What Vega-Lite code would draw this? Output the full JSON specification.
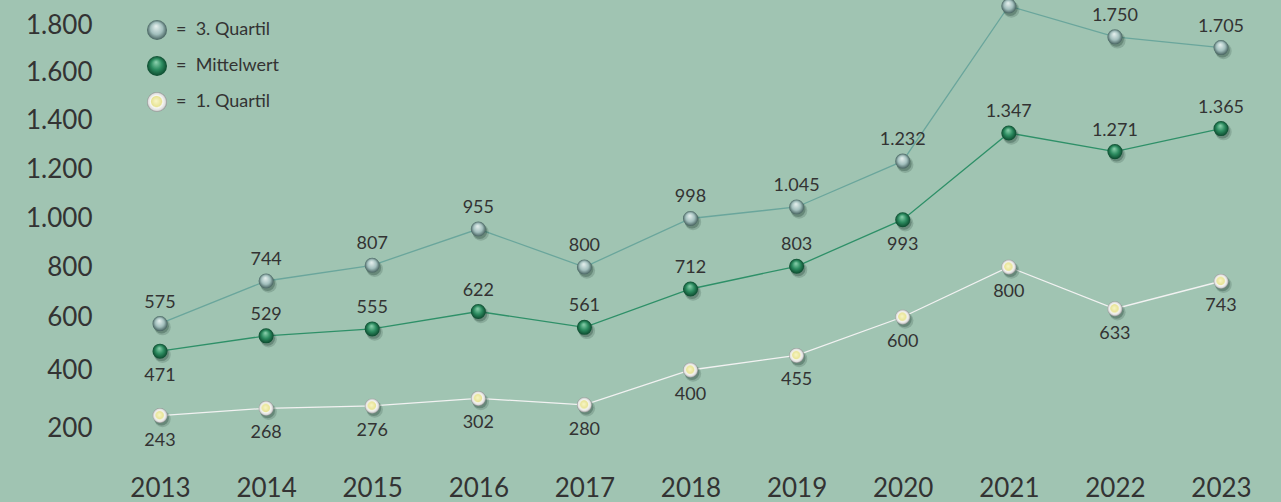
{
  "$schema": "https://vega.github.io/schema/vega-lite/v6.json",
  "width": 1184,
  "height": 470,
  "autosize": {"type": "none"},
  "padding": {"left": 97, "top": 0, "right": 0, "bottom": 32},
  "background": "#a0c4b2",
  "config": {
    "view": {"stroke": null},
    "font": "Lato",
    "locale": {"number": {"decimal": ",", "thousands": ".", "grouping": [3], "currency": ["", " €"]}}
  },
  "data": {
    "values": [
      {"year": 2013, "series": "3. Quartil", "value": 575},
      {"year": 2014, "series": "3. Quartil", "value": 744},
      {"year": 2015, "series": "3. Quartil", "value": 807},
      {"year": 2016, "series": "3. Quartil", "value": 955},
      {"year": 2017, "series": "3. Quartil", "value": 800},
      {"year": 2018, "series": "3. Quartil", "value": 998},
      {"year": 2019, "series": "3. Quartil", "value": 1045},
      {"year": 2020, "series": "3. Quartil", "value": 1232},
      {"year": 2021, "series": "3. Quartil", "value": 1880},
      {"year": 2022, "series": "3. Quartil", "value": 1750},
      {"year": 2023, "series": "3. Quartil", "value": 1705},
      {"year": 2013, "series": "Mittelwert", "value": 471},
      {"year": 2014, "series": "Mittelwert", "value": 529},
      {"year": 2015, "series": "Mittelwert", "value": 555},
      {"year": 2016, "series": "Mittelwert", "value": 622},
      {"year": 2017, "series": "Mittelwert", "value": 561},
      {"year": 2018, "series": "Mittelwert", "value": 712},
      {"year": 2019, "series": "Mittelwert", "value": 803},
      {"year": 2020, "series": "Mittelwert", "value": 993},
      {"year": 2021, "series": "Mittelwert", "value": 1347},
      {"year": 2022, "series": "Mittelwert", "value": 1271},
      {"year": 2023, "series": "Mittelwert", "value": 1365},
      {"year": 2013, "series": "1. Quartil", "value": 243},
      {"year": 2014, "series": "1. Quartil", "value": 268},
      {"year": 2015, "series": "1. Quartil", "value": 276},
      {"year": 2016, "series": "1. Quartil", "value": 302},
      {"year": 2017, "series": "1. Quartil", "value": 280},
      {"year": 2018, "series": "1. Quartil", "value": 400},
      {"year": 2019, "series": "1. Quartil", "value": 455},
      {"year": 2020, "series": "1. Quartil", "value": 600},
      {"year": 2021, "series": "1. Quartil", "value": 800},
      {"year": 2022, "series": "1. Quartil", "value": 633},
      {"year": 2023, "series": "1. Quartil", "value": 743}
    ]
  },
  "encoding": {
    "x": {
      "field": "year", "type": "quantitative",
      "scale": {"domain": [2013, 2023], "range": [63, 1124], "zero": false, "nice": false},
      "axis": {"title": null, "values": [2013,2014,2015,2016,2017,2018,2019,2020,2021,2022,2023], "format": "d",
               "labelFontSize": 26, "labelColor": "#333333", "labelPadding": 5, "tickSize": 0, "ticks": false,
               "domain": false, "grid": false, "labelFlush": false, "labelOverlap": false}
    },
    "y": {
      "field": "value", "type": "quantitative",
      "scale": {"domain": [200, 400, 600, 800, 1000, 1200, 1400, 1800], "range": [428, 370, 317, 267, 218, 169, 120, 25], "zero": false, "nice": false},
      "axis": {"title": null, "values": [200,400,600,800,1000,1200,1400,1600,1800], "format": ",d",
               "labelFontSize": 26, "labelColor": "#333333", "labelPadding": 5, "tickSize": 0, "ticks": false,
               "domain": false, "grid": false, "labelOverlap": false}
    }
  },
  "layer": [
    {
      "mark": {"type": "line", "strokeWidth": 1.3},
      "encoding": {
        "stroke": {
          "field": "series", "type": "nominal",
          "scale": {"domain": ["3. Quartil", "Mittelwert", "1. Quartil"], "range": ["#6aa69c", "#2e9068", "#f2f2f2"]},
          "legend": {
            "orient": "none", "legendX": 50, "legendY": 20, "title": null, "padding": 0,
            "symbolType": "circle", "symbolSize": 400, "symbolStrokeWidth": 0,
            "labelFontSize": 18, "labelOffset": 9, "rowPadding": 16, "labelColor": "#333333", "labelFont": "Lato",
            "labelExpr": "'=\u00a0\u00a0' + datum.label",
            "encode": {
              "symbols": {
                "update": {
                  "fill": {"signal": "datum.value == '3. Quartil' ? {gradient: 'radial', x1: 0.45, y1: 0.3, r1: 0, x2: 0.5, y2: 0.5, r2: 0.5, stops: [{offset: 0, color: '#e8f2f0'}, {offset: 0.6, color: '#a2bfbd'}, {offset: 1, color: '#46625f'}]} : (datum.value == 'Mittelwert' ? {gradient: 'radial', x1: 0.45, y1: 0.3, r1: 0, x2: 0.5, y2: 0.5, r2: 0.5, stops: [{offset: 0, color: '#8fd3b0'}, {offset: 0.55, color: '#2c8c60'}, {offset: 1, color: '#0c4a2e'}]} : {gradient: 'radial', x1: 0.45, y1: 0.45, r1: 0, x2: 0.5, y2: 0.5, r2: 0.5, stops: [{offset: 0, color: '#f8f6c8'}, {offset: 0.5, color: '#e8e496'}, {offset: 0.62, color: '#f6f6f2'}, {offset: 0.85, color: '#dedede'}, {offset: 1, color: '#8a8a8a'}]})"},
                  "stroke": {"value": "transparent"},
                  "opacity": {"value": 1}
                }
              }
            }
          }
        }
      }
    },
    {
      "mark": {"type": "point", "filled": true, "shape": "circle", "size": 270, "color": "#1b3a2e", "opacity": 0.18, "xOffset": 2.5, "yOffset": 3.5}
    },
    {
      "mark": {"type": "point", "filled": true, "shape": "circle", "size": 220, "color": "#1b3a2e", "opacity": 0.3, "xOffset": 1.5, "yOffset": 2.5}
    },
    {
      "transform": [{"filter": "datum.series == '3. Quartil'"}],
      "mark": {"type": "point", "filled": true, "shape": "circle", "size": 227, "opacity": 1,
               "fill": {"gradient": "radial", "x1": 0.45, "y1": 0.3, "r1": 0, "x2": 0.5, "y2": 0.5, "r2": 0.5,
                        "stops": [{"offset": 0, "color": "#e8f2f0"}, {"offset": 0.6, "color": "#a2bfbd"}, {"offset": 1, "color": "#46625f"}]}}
    },
    {
      "transform": [{"filter": "datum.series == 'Mittelwert'"}],
      "mark": {"type": "point", "filled": true, "shape": "circle", "size": 227, "opacity": 1,
               "fill": {"gradient": "radial", "x1": 0.45, "y1": 0.3, "r1": 0, "x2": 0.5, "y2": 0.5, "r2": 0.5,
                        "stops": [{"offset": 0, "color": "#8fd3b0"}, {"offset": 0.55, "color": "#2c8c60"}, {"offset": 1, "color": "#0c4a2e"}]}}
    },
    {
      "transform": [{"filter": "datum.series == '1. Quartil'"}],
      "mark": {"type": "point", "filled": true, "shape": "circle", "size": 227, "opacity": 1,
               "fill": {"gradient": "radial", "x1": 0.45, "y1": 0.45, "r1": 0, "x2": 0.5, "y2": 0.5, "r2": 0.5,
                        "stops": [{"offset": 0, "color": "#f8f6c8"}, {"offset": 0.5, "color": "#e8e496"}, {"offset": 0.62, "color": "#f6f6f2"}, {"offset": 0.85, "color": "#dedede"}, {"offset": 1, "color": "#8a8a8a"}]}}
    },
    {
      "transform": [{"filter": "datum.series == '3. Quartil' || (datum.series == 'Mittelwert' && datum.year != 2013 && datum.year != 2020)"}],
      "mark": {"type": "text", "fontSize": 18, "color": "#333333", "baseline": "middle", "dy": -21},
      "encoding": {"text": {"field": "value", "type": "quantitative", "format": ",d"}}
    },
    {
      "transform": [{"filter": "datum.series == '1. Quartil' || (datum.series == 'Mittelwert' && (datum.year == 2013 || datum.year == 2020))"}],
      "mark": {"type": "text", "fontSize": 18, "color": "#333333", "baseline": "middle", "dy": 25},
      "encoding": {"text": {"field": "value", "type": "quantitative", "format": ",d"}}
    }
  ]
}
